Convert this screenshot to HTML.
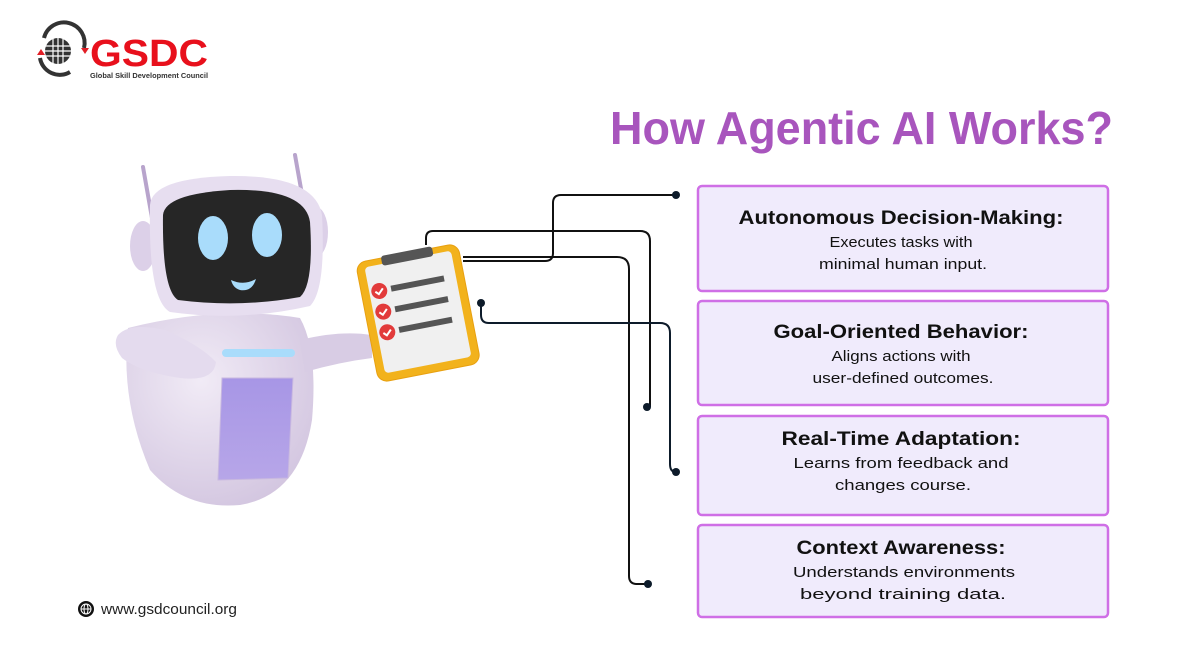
<!DOCTYPE html>
<html><head><meta charset="utf-8"><style>
html,body{margin:0;padding:0;background:#fff;}
svg{display:block;font-family:"Liberation Sans",sans-serif;}
</style></head><body>
<svg width="1200" height="650" viewBox="0 0 1200 650" xmlns="http://www.w3.org/2000/svg">
<defs>
<radialGradient id="bodyG" cx="0.4" cy="0.35" r="0.7"><stop offset="0" stop-color="#f1ebf6"/><stop offset="1" stop-color="#d3c6e0"/></radialGradient>
<linearGradient id="panelG" x1="0" y1="0" x2="0" y2="1"><stop offset="0" stop-color="#a796e6"/><stop offset="1" stop-color="#b7a6e8"/></linearGradient>
</defs>
<!-- logo -->
<circle cx="58" cy="51" r="13" fill="#333"/>
<g stroke="#fff" stroke-width="1.2" fill="none"><line x1="45" y1="46" x2="71" y2="46"/><line x1="45" y1="51" x2="71" y2="51"/><line x1="45" y1="56" x2="71" y2="56"/><line x1="53" y1="38" x2="53" y2="64"/><line x1="58" y1="38" x2="58" y2="64"/><line x1="63" y1="38" x2="63" y2="64"/></g>
<path d="M44 38 A20 20 0 0 1 84 48" stroke="#333" stroke-width="4" fill="none"/>
<path d="M40 58 A20 20 0 0 0 70 72" stroke="#333" stroke-width="4" fill="none"/>
<path d="M37 55 l4 -6 l4 6z" fill="#e21e26"/><path d="M81 48 l4 6 l4 -6z" fill="#e21e26"/>
<text x="90" y="66" font-size="38" font-weight="bold" fill="#e8101c" textLength="118" lengthAdjust="spacingAndGlyphs">GSDC</text>
<text x="90" y="78" font-size="7.5" font-weight="bold" fill="#333" textLength="118" lengthAdjust="spacingAndGlyphs">Global Skill Development Council</text>
<!-- title -->
<text x="610" y="144" font-size="46" font-weight="bold" fill="#a855bd" textLength="503" lengthAdjust="spacingAndGlyphs">How Agentic AI Works?</text>
<!-- robot -->
<line x1="143" y1="167" x2="152" y2="218" stroke="#b8a4cc" stroke-width="4" stroke-linecap="round"/>
<line x1="295" y1="155" x2="303" y2="200" stroke="#b8a4cc" stroke-width="4" stroke-linecap="round"/>
<path d="M128 328 Q120 400 150 470 Q185 510 240 505 Q300 495 312 420 Q318 350 300 318 Q220 305 128 328z" fill="url(#bodyG)"/>
<path d="M300 340 Q340 330 372 335 L372 358 Q340 362 305 372z" fill="#d8cce4"/>
<path d="M118 335 Q130 322 165 330 Q200 345 216 362 Q214 382 180 378 Q140 372 122 358 Q112 345 118 335z" fill="#e4dbee"/>
<rect x="222" y="349" width="73" height="8" rx="4" fill="#a9dcfb"/>
<path d="M222 378 L293 378 L288 478 L218 480z" fill="url(#panelG)" stroke="#c8b8e0"/>
<ellipse cx="143" cy="246" rx="13" ry="25" fill="#dcd0e8"/>
<ellipse cx="316" cy="232" rx="12" ry="25" fill="#dcd0e8"/>
<path d="M150 205 Q152 178 230 176 Q315 175 322 215 Q326 290 310 306 Q240 322 170 312 Q148 300 150 205z" fill="#e7def0"/>
<path d="M163 215 Q165 194 230 190 Q305 188 310 222 Q314 285 300 297 Q240 308 178 300 Q162 290 163 215z" fill="#262626"/>
<ellipse cx="213" cy="238" rx="15" ry="22" fill="#a9dcfb"/>
<ellipse cx="267" cy="235" rx="15" ry="22" fill="#a9dcfb"/>
<path d="M231 280 Q244 286 256 279 Q252 292 240 290 Q233 288 231 280z" fill="#a9dcfb"/>
<!-- clipboard -->
<g transform="rotate(-11 418 312)">
<rect x="366" y="252" width="104" height="122" rx="10" fill="#f2b21c" stroke="#e8a010"/>
<rect x="374" y="258" width="88" height="108" rx="4" fill="#f0f0f0"/>
<rect x="392" y="250" width="52" height="10" rx="3" fill="#555"/>
<circle cx="384" cy="284" r="8" fill="#e23b3b"/><rect x="396" y="281" width="54" height="6" fill="#555"/>
<circle cx="384" cy="305" r="8" fill="#e23b3b"/><rect x="396" y="302" width="54" height="6" fill="#555"/>
<circle cx="384" cy="326" r="8" fill="#e23b3b"/><rect x="396" y="323" width="54" height="6" fill="#555"/>
<g stroke="#fff" stroke-width="2" fill="none"><path d="M380 284 l3 3 l5 -5"/><path d="M380 305 l3 3 l5 -5"/><path d="M380 326 l3 3 l5 -5"/></g>
</g>
<!-- connectors -->
<g fill="none" stroke-width="2">
<path d="M463 261 H545 Q553 261 553 253 V203 Q553 195 561 195 H676" stroke="#111"/>
<path d="M426 245 V238 Q426 231 433 231 H640 Q650 231 650 241 V407" stroke="#111"/>
<path d="M463 257 H617 Q629 257 629 269 V576 Q629 584 637 584 H648" stroke="#111"/>
<path d="M481 303 V315 Q481 323 489 323 H660 Q670 323 670 333 V464 Q670 472 676 472" stroke="#0d1b2a"/>
</g>
<g fill="#0d1b2a"><circle cx="676" cy="195" r="4"/><circle cx="647" cy="407" r="4"/><circle cx="648" cy="584" r="4"/><circle cx="481" cy="303" r="4"/><circle cx="676" cy="472" r="4"/></g>
<!-- boxes -->
<g fill="#f0ebfc" stroke="#cf6fe6" stroke-width="2.5">
<rect x="698" y="186" width="410" height="105" rx="4"/>
<rect x="698" y="301" width="410" height="104" rx="4"/>
<rect x="698" y="416" width="410" height="99" rx="4"/>
<rect x="698" y="525" width="410" height="92" rx="4"/>
</g>
<g text-anchor="middle" fill="#111" lengthAdjust="spacingAndGlyphs">
<text x="901" y="224" font-size="19" font-weight="bold" textLength="325" lengthAdjust="spacingAndGlyphs">Autonomous Decision-Making:</text>
<text x="901" y="247" font-size="15" textLength="143" lengthAdjust="spacingAndGlyphs">Executes tasks with</text>
<text x="903" y="269" font-size="15" textLength="168" lengthAdjust="spacingAndGlyphs">minimal human input.</text>
<text x="901" y="338" font-size="19" font-weight="bold" textLength="255" lengthAdjust="spacingAndGlyphs">Goal-Oriented Behavior:</text>
<text x="901" y="361" font-size="15" textLength="139" lengthAdjust="spacingAndGlyphs">Aligns actions with</text>
<text x="903" y="383" font-size="15" textLength="181" lengthAdjust="spacingAndGlyphs">user-defined outcomes.</text>
<text x="901" y="445" font-size="19" font-weight="bold" textLength="239" lengthAdjust="spacingAndGlyphs">Real-Time Adaptation:</text>
<text x="901" y="468" font-size="15" textLength="215" lengthAdjust="spacingAndGlyphs">Learns from feedback and</text>
<text x="903" y="490" font-size="15" textLength="136" lengthAdjust="spacingAndGlyphs">changes course.</text>
<text x="901" y="554" font-size="19" font-weight="bold" textLength="209" lengthAdjust="spacingAndGlyphs">Context Awareness:</text>
<text x="904" y="577" font-size="15" textLength="222" lengthAdjust="spacingAndGlyphs">Understands environments</text>
<text x="903" y="599" font-size="15" textLength="206" lengthAdjust="spacingAndGlyphs">beyond training data.</text>
</g>
<!-- footer -->
<circle cx="86" cy="609" r="8" fill="#111"/>
<g stroke="#fff" stroke-width="1" fill="none"><circle cx="86" cy="609" r="5"/><ellipse cx="86" cy="609" rx="2" ry="5"/><line x1="81" y1="609" x2="91" y2="609"/></g>
<text x="101" y="614" font-size="14.5" fill="#222" textLength="136" lengthAdjust="spacingAndGlyphs">www.gsdcouncil.org</text>
</svg>
</body></html>
